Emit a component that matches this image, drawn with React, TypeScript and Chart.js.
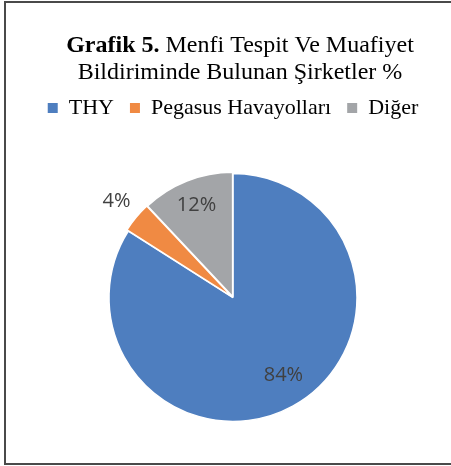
import React, { useEffect, useRef } from "react";
import { Chart, registerables } from "chart.js";

Chart.register(...registerables);

const titleBold = "Grafik 5.";
const titleRest = " Menfi Tespit Ve Muafiyet";
const titleLine2 = "Bildiriminde Bulunan Şirketler %";
const categories = ["THY", "Pegasus Havayolları", "Diğer"];
const values = [84, 4, 12];
const colors = ["#4E7EBF", "#F08A43", "#A3A5A8"];

const framePlugin = {
  id: "frame",
  beforeDraw(chart: any) {
    const ctx = chart.ctx;
    ctx.save();
    ctx.fillStyle = "#ffffff";
    ctx.fillRect(0, 0, chart.width, chart.height);
    ctx.fillStyle = "#4a4a4a";
    ctx.fillRect(4, 1, 2, 464);
    ctx.fillRect(4, 1, chart.width, 2);
    ctx.fillRect(4, 463, chart.width, 2);
    ctx.restore();
  },
};

const titlePlugin = {
  id: "mixedTitle",
  afterDraw(chart: any) {
    const ctx = chart.ctx;
    ctx.save();
    ctx.fillStyle = "#000000";
    ctx.textBaseline = "alphabetic";
    ctx.textAlign = "left";
    const boldFont = 'bold 24px "Liberation Serif"';
    const normFont = '24px "Liberation Serif"';
    ctx.font = boldFont;
    const wb = ctx.measureText(titleBold).width;
    ctx.font = normFont;
    const wr = ctx.measureText(titleRest).width;
    const cx = 240;
    const x = cx - (wb + wr) / 2;
    ctx.font = boldFont;
    ctx.fillText(titleBold, x, 52);
    ctx.font = normFont;
    ctx.fillText(titleRest, x + wb, 52);
    ctx.textAlign = "center";
    ctx.fillText(titleLine2, cx, 79);
    ctx.restore();
  },
};

const labelPlugin = {
  id: "sliceLabels",
  afterDatasetsDraw(chart: any) {
    const ctx = chart.ctx;
    const meta = chart.getDatasetMeta(0);
    const data = chart.data.datasets[0].data as number[];
    const total = data.reduce((a, b) => a + b, 0);
    ctx.save();
    ctx.font = '20px "Open Sans"';
    ctx.fillStyle = "#404040";
    ctx.textAlign = "center";
    ctx.textBaseline = "middle";
    meta.data.forEach((arc: any, i: number) => {
      const p = arc.getProps(["x", "y", "startAngle", "endAngle", "outerRadius"], true);
      const mid = (p.startAngle + p.endAngle) / 2 - (data[i] / total > 0.5 ? 0.07 : 0);
      const frac = data[i] / total;
      const r = frac < 0.06 ? p.outerRadius * 1.22 : p.outerRadius * (frac > 0.5 ? 0.75 : 0.8);
      const x = p.x + Math.cos(mid) * r;
      const y = p.y + Math.sin(mid) * r;
      ctx.fillText(Math.round(frac * 100) + "%", x, y);
    });
    ctx.restore();
  },
};

export default function App() {
  const ref = useRef<HTMLCanvasElement | null>(null);
  useEffect(() => {
    if (!ref.current) return;
    const baseGen = (Chart as any).overrides.pie.plugins.legend.labels.generateLabels;
    const chart = new Chart(ref.current, {
      type: "pie",
      data: {
        labels: categories,
        datasets: [
          {
            data: values,
            backgroundColor: colors,
            borderColor: "#ffffff",
            borderWidth: 1.5,
            offset: [0, 4, 4],
            radius: 124,
          } as any,
        ],
      },
      options: {
        responsive: false,
        animation: false,
        layout: { padding: { top: 81, bottom: 0, left: 20, right: 5 } },
        plugins: {
          title: { display: false },
          tooltip: { enabled: false },
          legend: {
            display: true,
            position: "top",
            labels: {
              font: { family: '"Liberation Serif"', size: 22 },
              color: "#000000",
              boxWidth: 10,
              boxHeight: 10,
              padding: 16,
              generateLabels: (c: any) =>
                baseGen(c).map((it: any) => ({ ...it, lineWidth: 0, strokeStyle: "rgba(0,0,0,0)" })),
            },
          },
        },
      } as any,
      plugins: [framePlugin, titlePlugin, labelPlugin],
    });
    return () => chart.destroy();
  }, []);
  return (
    <div style={{ position: "fixed", left: 0, top: 0, width: 451, height: 466 }}>
      <canvas ref={ref} width={451} height={466} style={{ display: "block" }} />
    </div>
  );
}
